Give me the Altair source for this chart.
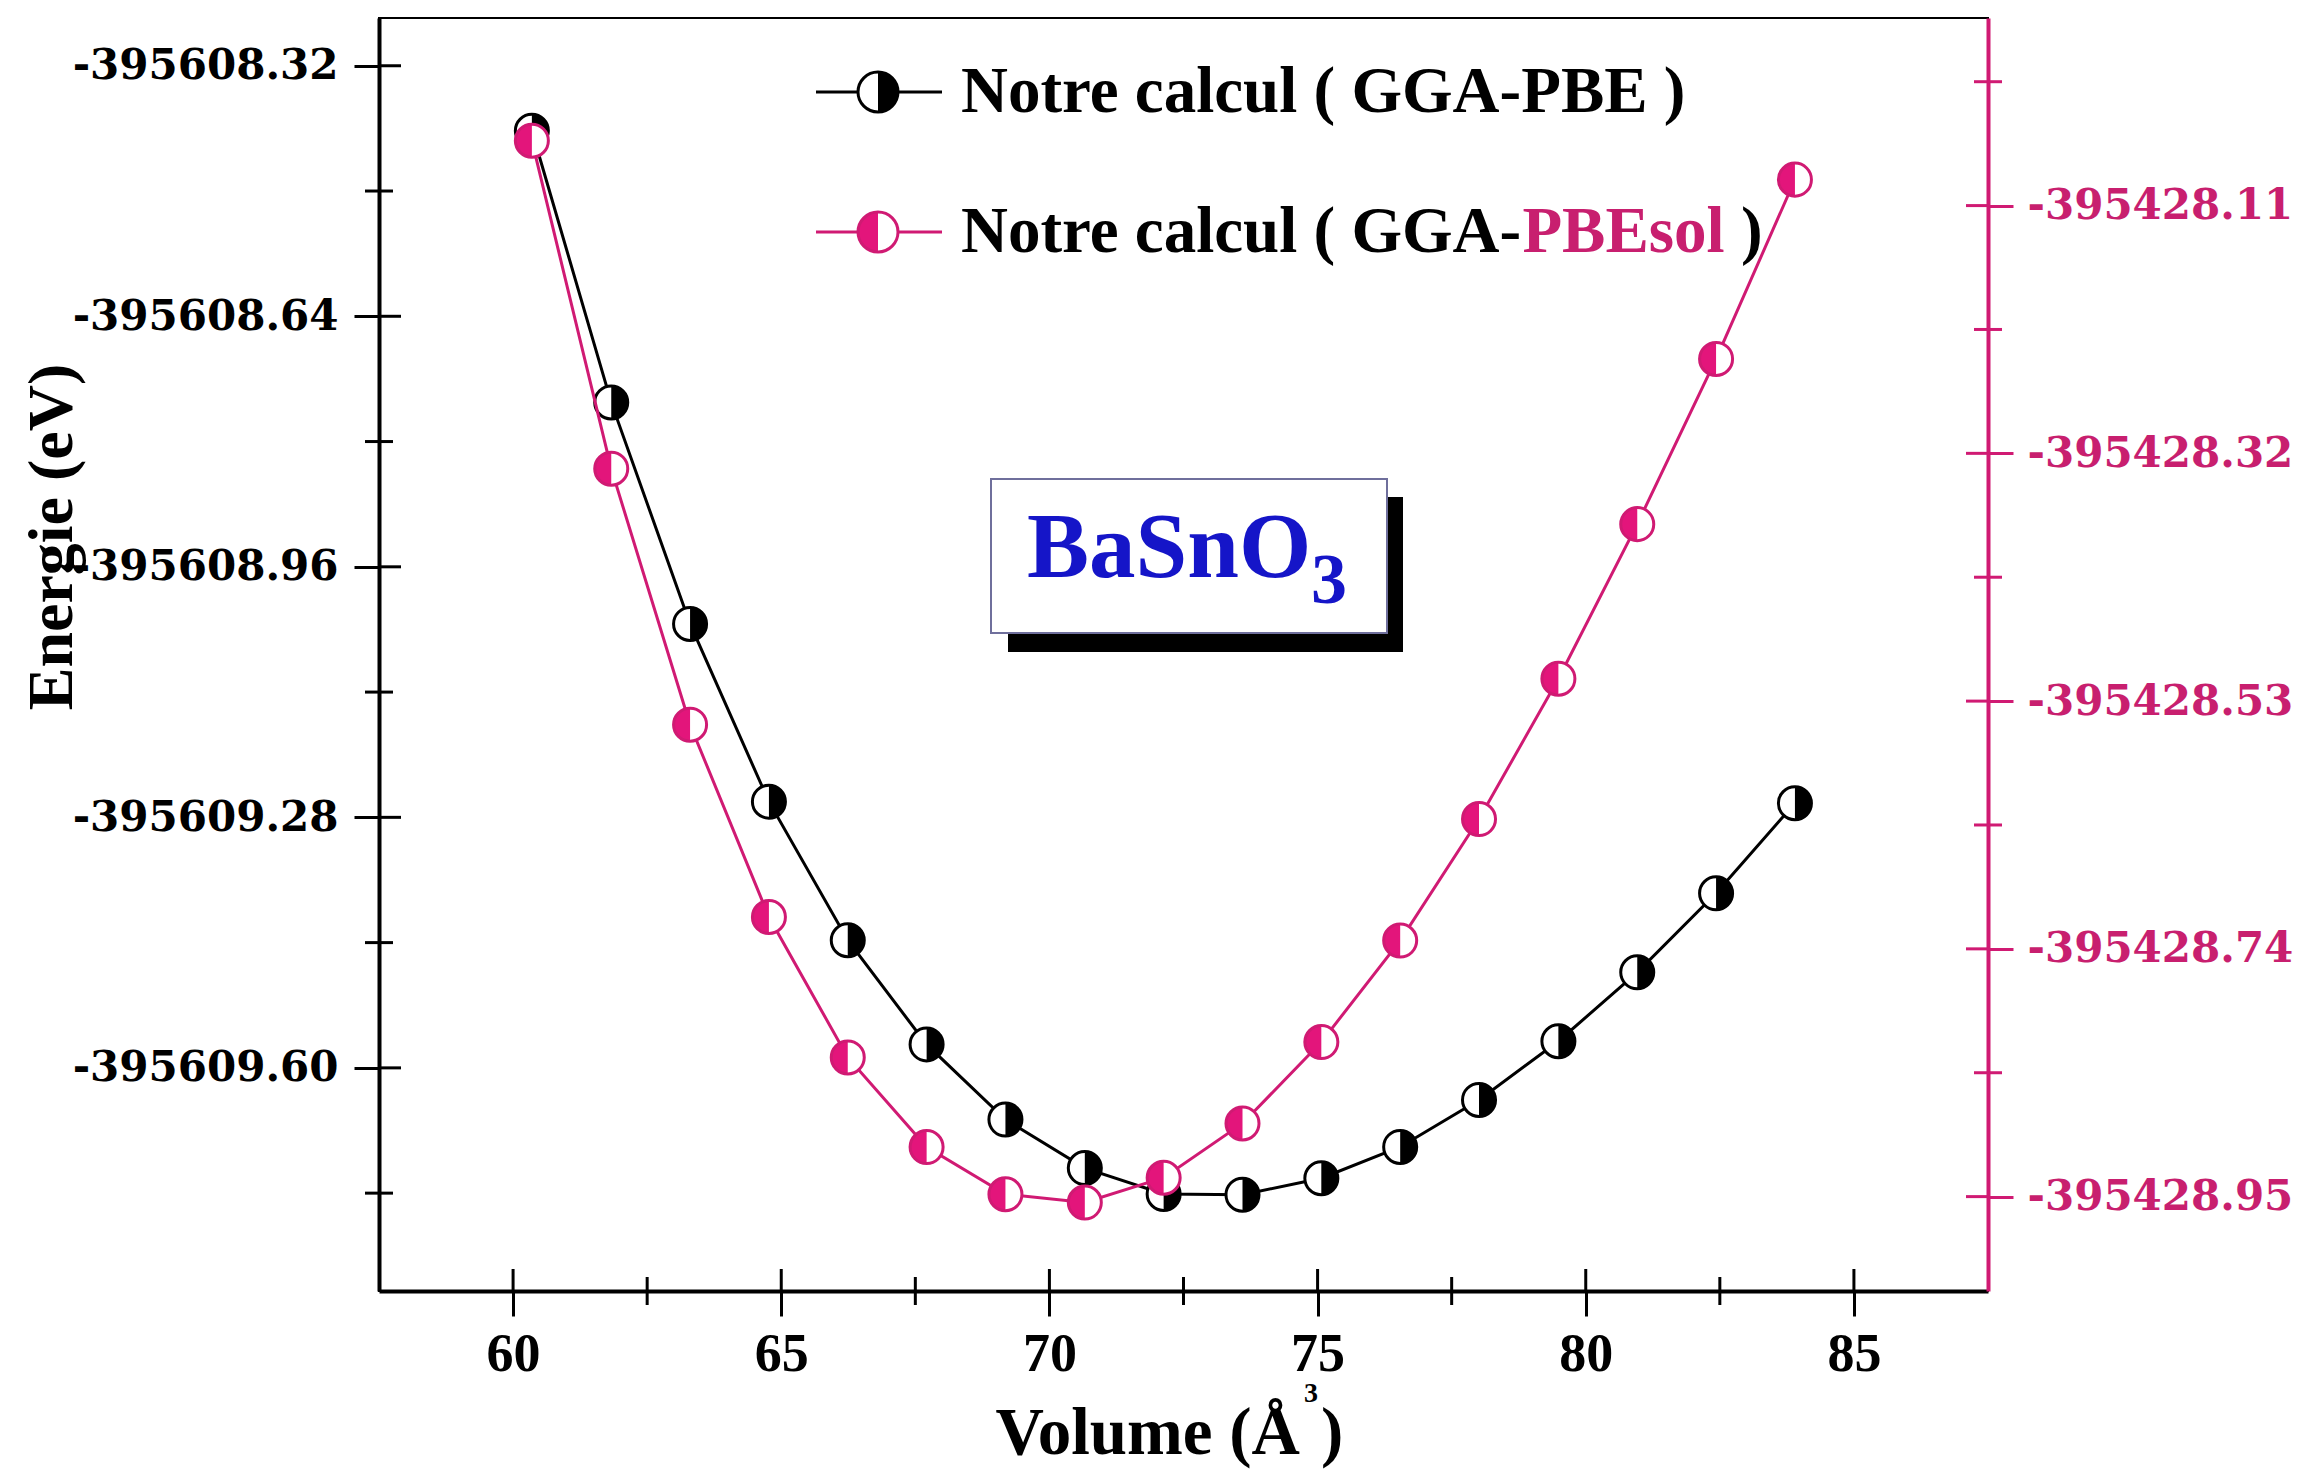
import altair as alt
import pandas as pd

# E(V) curves for BaSnO3 with two exchange-correlation functionals
volume = [60.35, 61.83, 63.30, 64.77, 66.24, 67.71, 69.18, 70.66, 72.13,
          73.60, 75.07, 76.54, 78.01, 79.49, 80.96, 82.43, 83.90]
e_pbe = [-395608.403, -395608.750, -395609.033, -395609.260, -395609.437,
         -395609.570, -395609.666, -395609.728, -395609.761, -395609.762,
         -395609.741, -395609.701, -395609.641, -395609.566, -395609.478,
         -395609.377, -395609.262]
e_pbesol = [-395428.055, -395428.333, -395428.550, -395428.713, -395428.832,
            -395428.908, -395428.948, -395428.955, -395428.934, -395428.888,
            -395428.819, -395428.733, -395428.630, -395428.511, -395428.380,
            -395428.240, -395428.088]

# tick positions
x_major = [60, 65, 70, 75, 80, 85]
x_minor = [62.5, 67.5, 72.5, 77.5, 82.5]
left_major = [-395608.32, -395608.64, -395608.96, -395609.28, -395609.60]
left_minor = [-395608.48, -395608.80, -395609.12, -395609.44, -395609.76]
right_major = [-395428.11, -395428.32, -395428.53, -395428.74, -395428.95]
right_minor = [-395428.005, -395428.215, -395428.425, -395428.635, -395428.845]

X_DOMAIN = [57.5, 87.5]
LEFT_DOMAIN = [-395609.885, -395608.259]
RIGHT_DOMAIN = [-395429.03, -395427.951]

W, H = 1609, 1273
BLACK = "#000000"
PINK = "#e3157b"
PINK_LINE = "#d01a73"
PINK_TEXT = "#c81f6f"
SERIF = "Liberation Serif"
RIGHT_HALF = "M0,-1A1,1,0,0,1,0,1Z"
LEFT_HALF = "M0,-1A1,1,0,0,0,0,1Z"
MSIZE = 1090
LSIZE = 1600

x_scale = alt.Scale(domain=X_DOMAIN, nice=False, zero=False)
x_axis = alt.Axis(values=x_major, format="d", title=None, grid=False,
                  domainColor=BLACK, domainWidth=4, tickColor=BLACK,
                  tickWidth=3, tickSize=25, labelFont=SERIF,
                  labelFontWeight="bold", labelFontSize=54, labelColor=BLACK,
                  labelPadding=11, labelFlush=False)

label_expr = "'-' + format(abs(datum.value), '.2f')"
left_axis = alt.Axis(orient="left", values=left_major, labelExpr=label_expr,
                     title=None, grid=False, domainColor=BLACK, domainWidth=4,
                     tickColor=BLACK, tickWidth=3, tickSize=25,
                     labelFont="DejaVu Serif", labelFontWeight="bold",
                     labelFontSize=42, labelColor=BLACK, labelPadding=16,
                     labelLimit=500)
right_axis = alt.Axis(orient="right", values=right_major, labelExpr=label_expr,
                      title=None, grid=False, domainColor=PINK_LINE,
                      domainWidth=4, tickColor=PINK_LINE, tickWidth=3,
                      tickSize=25, labelFont="DejaVu Serif",
                      labelFontWeight="bold", labelFontSize=42,
                      labelColor=PINK_TEXT, labelPadding=14, labelLimit=500)

X = alt.X("volume:Q", scale=x_scale, axis=x_axis)
Y_L = alt.Y("energy:Q", scale=alt.Scale(domain=LEFT_DOMAIN, nice=False, zero=False), axis=left_axis)
Y_R = alt.Y("energy:Q", scale=alt.Scale(domain=RIGHT_DOMAIN, nice=False, zero=False), axis=right_axis)

df_pbe = pd.DataFrame({"volume": volume, "energy": e_pbe})
df_sol = pd.DataFrame({"volume": volume, "energy": e_pbesol})


def series(df, y, line_color, fill_color, half):
    base = alt.Chart(df).encode(x=X, y=y)
    return [
        base.mark_line(color=line_color, strokeWidth=3),
        base.mark_point(shape="circle", filled=True, color="white", opacity=1, size=MSIZE),
        base.mark_point(shape=half, filled=True, color=fill_color, opacity=1, size=MSIZE),
        base.mark_point(shape="circle", filled=False, color=line_color, strokeWidth=3,
                        opacity=1, size=MSIZE),
    ]


def y_ticks(values, y, color, x0, x1):
    return alt.Chart(pd.DataFrame({"energy": values})).mark_rule(
        color=color, strokeWidth=3).encode(y=y, x=alt.value(x0), x2=alt.value(x1))


def x_ticks(values, y0, y1):
    return alt.Chart(pd.DataFrame({"volume": values})).mark_rule(
        color=BLACK, strokeWidth=3).encode(x=X, y=alt.value(y0), y2=alt.value(y1))


left_group = alt.layer(
    x_ticks(x_major, H - 22, H),
    x_ticks(x_minor, H - 14, H + 14),
    y_ticks(left_major, Y_L, BLACK, 0, 22),
    y_ticks(left_minor, Y_L, BLACK, -14, 14),
    *series(df_pbe, Y_L, BLACK, BLACK, RIGHT_HALF),
)

right_group = alt.layer(
    y_ticks(right_major, Y_R, PINK_LINE, W - 22, W),
    y_ticks(right_minor, Y_R, PINK_LINE, W - 14, W + 14),
    *series(df_sol, Y_R, PINK_LINE, PINK, LEFT_HALF),
)

# annotations: legend, compound label box, axis titles
one = pd.DataFrame({"k": [0]})
ann = alt.Chart(one)


def txt(s, x, y, size, color=BLACK, align="left", baseline="middle", angle=0, font=SERIF):
    kw = dict(align=align, baseline=baseline, font=font, fontWeight="bold",
              fontSize=size, color=color)
    if angle:
        kw["angle"] = angle
    return ann.mark_text(**kw).encode(x=alt.value(x), y=alt.value(y), text=alt.value(s))


def legend_symbol(y, line_color, fill_color, half):
    return [
        ann.mark_rule(color=line_color, strokeWidth=3).encode(
            x=alt.value(437), x2=alt.value(563), y=alt.value(y)),
        ann.mark_point(shape="circle", filled=True, color="white", opacity=1, size=LSIZE).encode(
            x=alt.value(499), y=alt.value(y)),
        ann.mark_point(shape=half, filled=True, color=fill_color, opacity=1, size=LSIZE).encode(
            x=alt.value(499), y=alt.value(y)),
        ann.mark_point(shape="circle", filled=False, color=line_color, strokeWidth=3,
                       opacity=1, size=LSIZE).encode(x=alt.value(499), y=alt.value(y)),
    ]


LEG_FS = 65
leg_x = 582
leg1_y, leg2_y = 74, 214
prefix = "Notre calcul ( GGA-"
prefix_w = 8.637 * LEG_FS
sol_w = 3.112 * LEG_FS

annotations = alt.layer(
    *legend_symbol(leg1_y, BLACK, BLACK, RIGHT_HALF),
    *legend_symbol(leg2_y, PINK_LINE, PINK, LEFT_HALF),
    txt("Notre calcul ( GGA-PBE )", leg_x, leg1_y, LEG_FS),
    txt(prefix, leg_x, leg2_y, LEG_FS),
    txt("PBEsol", leg_x + prefix_w, leg2_y, LEG_FS, color=PINK_TEXT),
    txt(")", leg_x + prefix_w + sol_w + 0.25 * LEG_FS, leg2_y, LEG_FS),
    ann.mark_rect(color=BLACK).encode(x=alt.value(629), x2=alt.value(1024),
                                      y=alt.value(479), y2=alt.value(634)),
    ann.mark_rect(fill="white", stroke="#6f6f9c", strokeWidth=2).encode(
        x=alt.value(612), x2=alt.value(1008), y=alt.value(461), y2=alt.value(615)),
    txt("BaSnO", 648, 559, 93, color="#1515c8", baseline="alphabetic"),
    txt("3", 932, 585, 72, color="#1515c8", baseline="alphabetic"),
    txt("Energie (eV)", -326, 519, 64, align="center", angle=270),
    txt("Volume (Å", 921, 1436, 67, align="right", baseline="alphabetic"),
    txt("3", 925, 1384, 28, baseline="alphabetic"),
    txt(")", 942, 1436, 67, baseline="alphabetic"),
)

chart = alt.layer(left_group, right_group, annotations).resolve_scale(
    y="independent"
).properties(
    width=W, height=H,
    autosize=alt.AutoSizeParams(type="none"),
    padding={"left": 379, "top": 18, "right": 2307 - 379 - W, "bottom": 1475 - 18 - H},
    background="white",
).configure_view(stroke=BLACK, strokeWidth=2)

chart.save("out.html", embed_options={"renderer": "svg", "actions": False})
